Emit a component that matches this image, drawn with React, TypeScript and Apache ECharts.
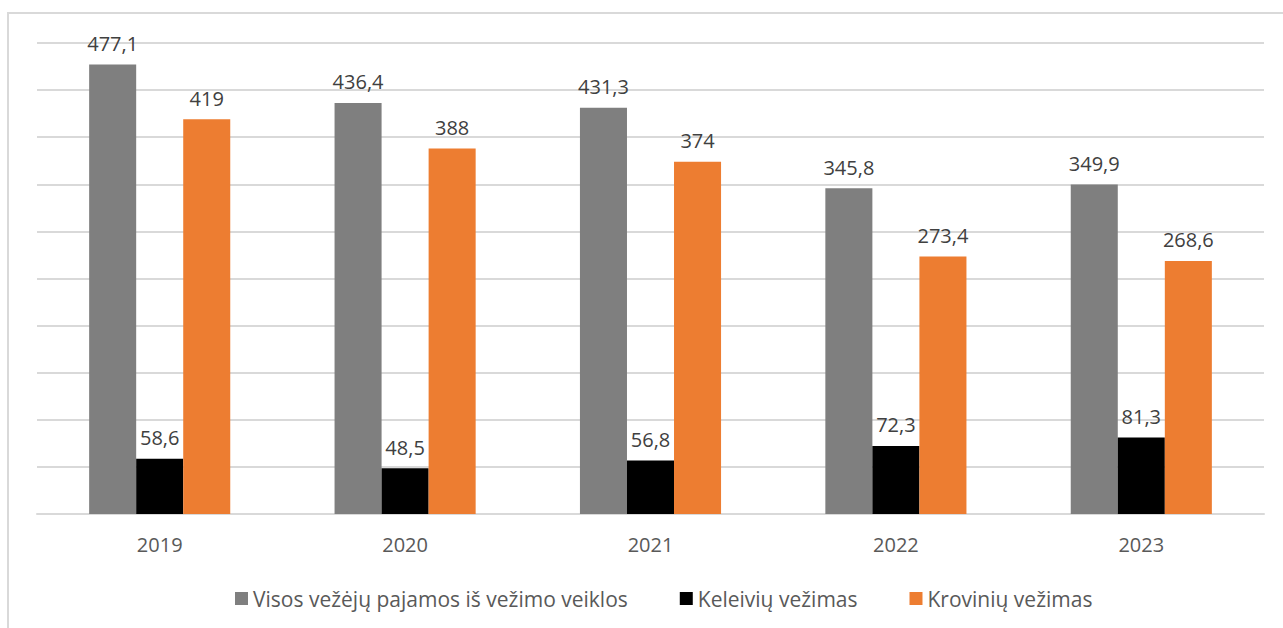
import React, { useEffect, useRef } from "react";
import * as echarts from "echarts";

const categories = ["2019", "2020", "2021", "2022", "2023"];
const seriesNames = [
  "Visos vežėjų pajamos iš vežimo veiklos",
  "Keleivių vežimas",
  "Krovinių vežimas",
];
const totalValues = [477.1, 436.4, 431.3, 345.8, 349.9];
const passengerValues = [58.6, 48.5, 56.8, 72.3, 81.3];
const freightValues = [419, 388, 374, 273.4, 268.6];
const colors = ["#7F7F7F", "#000000", "#ED7D31"];

const FONT = "'Open Sans', 'Noto Sans', sans-serif";

export default function App() {
  const ref = useRef<HTMLDivElement>(null);
  useEffect(() => {
    if (!ref.current) return;
    const chart = echarts.init(ref.current, undefined, { renderer: "svg" });
    const fmt = (p: any) => String(p.value).replace(".", ",");
    const dataSets = [totalValues, passengerValues, freightValues];
    chart.setOption({
      animation: false,
      textStyle: { fontFamily: FONT },
      graphic: [
        {
          type: "rect",
          shape: { x: 8, y: 13, width: 1400, height: 700 },
          style: { fill: "none", stroke: "#D9D9D9", lineWidth: 2 },
          silent: true,
        },
      ],
      grid: { left: 37, right: 19, top: 43, bottom: 114 },
      xAxis: {
        type: "category",
        data: categories,
        axisLine: { show: true, lineStyle: { color: "#D9D9D9", width: 2 } },
        axisTick: { show: false },
        axisLabel: { color: "#595959", fontSize: 20, margin: 20, fontFamily: FONT },
      },
      yAxis: {
        type: "value",
        min: 0,
        max: 500,
        interval: 50,
        axisLabel: { show: false },
        axisLine: { show: false },
        axisTick: { show: false },
        splitLine: { lineStyle: { color: "#D9D9D9", width: 2 } },
      },
      legend: {
        bottom: 14,
        left: 230,
        itemWidth: 13,
        itemHeight: 13,
        itemGap: 52,
        icon: "rect",
        textStyle: { color: "#595959", fontSize: 21, fontFamily: FONT },
        data: seriesNames,
      },
      series: seriesNames.map((name, i) => ({
        name,
        type: "bar",
        data: dataSets[i],
        barGap: "0%",
        barCategoryGap: "42.5%",
        itemStyle: { color: colors[i] },
        label: {
          show: true,
          position: "top",
          distance: 11,
          color: "#404040",
          fontSize: 20,
          fontFamily: FONT,
          formatter: fmt,
        },
      })),
    });
    return () => chart.dispose();
  }, []);
  return (
    <div
      ref={ref}
      style={{ position: "absolute", left: 0, top: 0, width: 1283, height: 628 }}
    />
  );
}
